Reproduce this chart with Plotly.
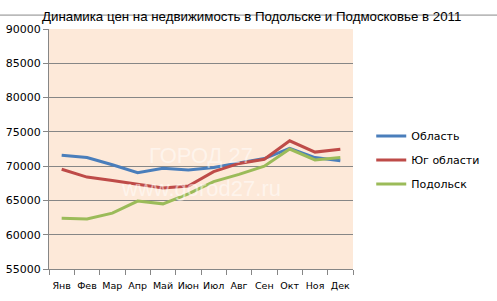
import plotly.graph_objects as go

months = ["Янв", "Фев", "Мар", "Апр", "Май", "Июн", "Июл", "Авг", "Сен", "Окт", "Ноя", "Дек"]
oblast = [71600, 71250, 70200, 69050, 69700, 69450, 69800, 70500, 71100, 72600, 71250, 70800]
yug = [69550, 68400, 67900, 67350, 66800, 67100, 69200, 70400, 71000, 73700, 72050, 72450]
podolsk = [62400, 62300, 63150, 64900, 64500, 65950, 67750, 68800, 70000, 72500, 70900, 71250]
y_ticks = [55000, 60000, 65000, 70000, 75000, 80000, 85000, 90000]
title = "Динамика цен на недвижимость в Подольске и Подмосковье в 2011"

fig = go.Figure()
for name, vals, col in [("Область", oblast, "#4A7EBB"),
                        ("Юг области", yug, "#BE4B48"),
                        ("Подольск", podolsk, "#9BBB59")]:
    fig.add_trace(go.Scatter(x=months, y=vals, name=name, mode="lines", legendgroup=name,
                             line=dict(color=col, width=3)))

fig.update_layout(
    width=497, height=301,
    margin=dict(l=49, r=122, t=29, b=32),
    paper_bgcolor="white", plot_bgcolor="#FDE9D9",
    font=dict(family="DejaVu Sans", size=11, color="black"),
    showlegend=True,
    legend=dict(x=1.06, y=0.615, xanchor="left", yanchor="top",
                font=dict(family="DejaVu Sans", size=11),
                tracegroupgap=5, itemwidth=30, bgcolor="rgba(0,0,0,0)"),
    annotations=[
        dict(text=title, x=-0.03, y=1.012, xref="paper", yref="paper", showarrow=False,
             xanchor="left", yanchor="bottom",
             font=dict(family="Liberation Sans", size=13.3, color="black")),
        dict(text="ГОРОД 27", x=0.5, y=0.475, xref="paper", yref="paper", showarrow=False,
             font=dict(family="Liberation Sans", size=22, color="rgba(255,255,255,0.5)")),
        dict(text="www.gorod27.ru", x=0.5, y=0.335, xref="paper", yref="paper", showarrow=False,
             font=dict(family="Liberation Sans", size=22, color="rgba(255,255,255,0.5)")),
    ],
    shapes=[dict(type="line", xref="paper", yref="paper", x0=-0.2, x1=1.5,
                 y0=1.058, y1=1.058, line=dict(color="#888888", width=1))],
)

fig.update_xaxes(type="category", range=[-0.5, 11.5], showgrid=False,
                 showline=True, linecolor="#868686", linewidth=1,
                 ticks="outside", ticklen=5, tickcolor="#868686",
                 tickson="boundaries", tickangle=0, ticklabelstandoff=8, automargin=False,
                 tickfont=dict(size=9.5, family="DejaVu Sans"))
fig.update_yaxes(range=[55000, 90000], tickvals=y_ticks, ticktext=[str(v) for v in y_ticks],
                 showgrid=True, gridcolor="#868686", gridwidth=1,
                 showline=True, linecolor="#868686", linewidth=1,
                 ticks="outside", ticklen=5, tickcolor="#868686", automargin=False,
                 tickfont=dict(size=11, family="DejaVu Sans"), zeroline=False)

fig.write_html("out.html")
